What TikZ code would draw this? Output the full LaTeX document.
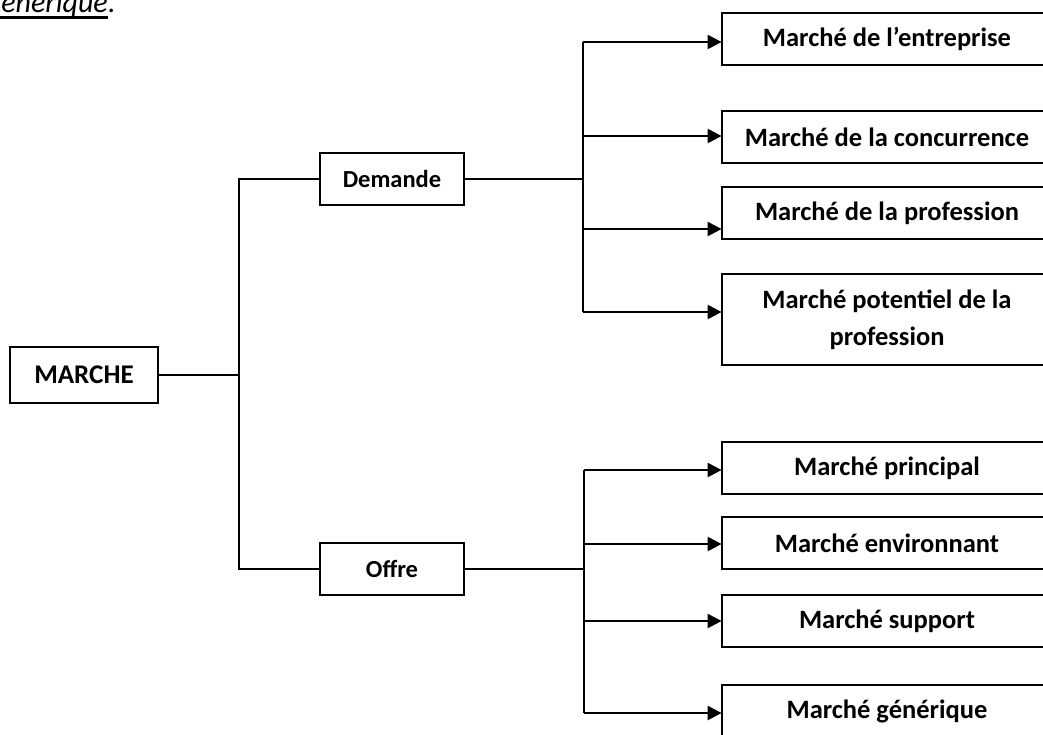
\documentclass[tikz,border=0pt]{standalone}
\usepackage{fontspec}
\setmainfont{Carlito}
\usetikzlibrary{arrows.meta}

\tikzset{
  box/.style={draw, line width=1.8pt, fill=white, inner sep=0pt, align=center,
              font=\bfseries\fontsize{24.5}{37}\selectfont},
  rootbox/.style={box, minimum width=148pt, minimum height=56pt,
              font=\bfseries\fontsize{27}{32}\selectfont},
  midbox/.style={box, minimum width=144pt, minimum height=52pt},
  leafbox/.style={box, minimum width=330pt, minimum height=52pt,
              font=\bfseries\fontsize{26.5}{37}\selectfont},
  link/.style={line width=1.5pt},
  bus/.style={line width=2.3pt},
  arr/.style={line width=2.3pt, -{Triangle[length=14pt,width=14pt]}, shorten >=-0.5pt},
}

\begin{document}
\begin{tikzpicture}[x=1pt,y=-1pt]
\useasboundingbox (0,0) rectangle (1043,734);

% caption fragment at the top
\node[inner sep=0pt, anchor=base east, font=\itshape\fontsize{30}{36}\selectfont]
  (gen) at (108,12.5) {générique};
\node[inner sep=0pt, anchor=base west, font=\itshape\fontsize{30}{36}\selectfont]
  (dot) at (gen.base east) {.};
\draw[line width=3pt] ([yshift=-5pt]gen.base west) -- ([yshift=-5pt]gen.base east);

% main boxes
\node[rootbox] (marche) at (84,375) {MARCHE};
\node[midbox] (demande) at (392,179) {Demande};
\node[midbox] (offre) at (392,569) {Offre};

% leaves
\node[leafbox] (b1) at (887,39) {Marché de l’entreprise};
\node[leafbox] (b2) at (887,137) {Marché de la concurrence};
\node[leafbox] (b3) at (887,213) {Marché de la profession};
\node[leafbox, minimum height=91pt] (b4) at (887,319.5) {Marché potentiel de la\\profession};
\node[leafbox] (b5) at (887,468) {Marché principal};
\node[leafbox] (b6) at (887,543) {Marché environnant};
\node[leafbox] (b7) at (887,621) {Marché support};
\node[leafbox] (b8) at (887,711) {Marché générique};

% left bracket
\coordinate (lbus) at (239,375);
\draw[link] (marche.east) -- (lbus);
\draw[link] (demande.west) -- (demande.west -| lbus) -- (offre.west -| lbus) -- (offre.west);

% demande branch
\coordinate (d1) at (583,42);
\coordinate (d2) at (583,136);
\coordinate (d3) at (583,229);
\coordinate (d4) at (583,312);
\draw[link] (demande.east) -- (demande.east -| d1);
\draw[bus] (d1) -- (d4);
\foreach \j/\b in {d1/b1, d2/b2, d3/b3, d4/b4}
  \draw[arr] (\j) -- (\j -| \b.west);

% offre branch
\coordinate (o1) at (584,470);
\coordinate (o2) at (584,544);
\coordinate (o3) at (584,621);
\coordinate (o4) at (584,713);
\draw[link] (offre.east) -- (offre.east -| o1);
\draw[bus] (o1) -- (o4);
\foreach \j/\b in {o1/b5, o2/b6, o3/b7, o4/b8}
  \draw[arr] (\j) -- (\j -| \b.west);
\end{tikzpicture}
\end{document}
